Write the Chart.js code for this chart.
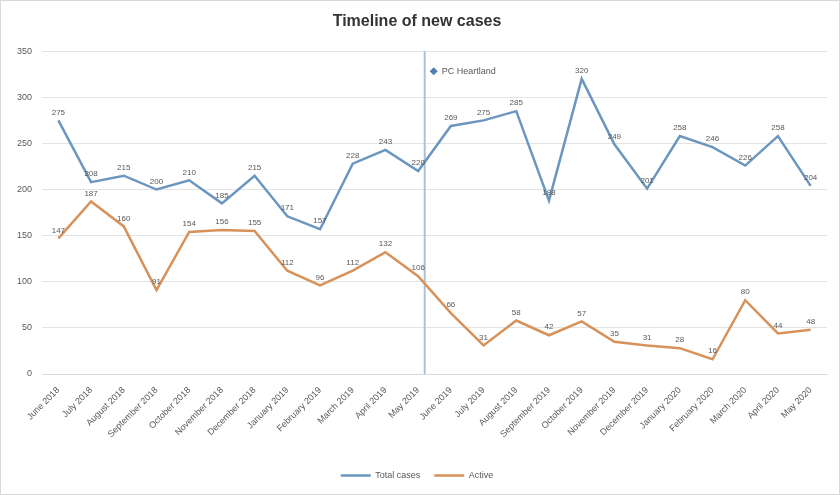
<!DOCTYPE html>
<html>
<head>
<meta charset="utf-8">
<script src="https://cdn.jsdelivr.net/npm/chart.js@4/dist/chart.umd.min.js"></script>
<style>
    html, body { margin: 0; padding: 0; background: #fff; }
    .wrap { position: relative; width: 840px; height: 495px; box-sizing: border-box; border: 1px solid #d9d9d9; }
</style>
</head>
<body>
<div class="wrap"><canvas id="casesChart"></canvas></div>
<script>
// Chart data
const months = [
    'June 2018', 'July 2018', 'August 2018', 'September 2018', 'October 2018', 'November 2018',
    'December 2018', 'January 2019', 'February 2019', 'March 2019', 'April 2019', 'May 2019',
    'June 2019', 'July 2019', 'August 2019', 'September 2019', 'October 2019', 'November 2019',
    'December 2019', 'January 2020', 'February 2020', 'March 2020', 'April 2020', 'May 2020'
];
const totalCases = [275, 208, 215, 200, 210, 185, 215, 171, 157, 228, 243, 220,
                    269, 275, 285, 188, 320, 249, 201, 258, 246, 226, 258, 204];
const activeCases = [147, 187, 160, 91, 154, 156, 155, 112, 96, 112, 132, 106,
                     66, 31, 58, 42, 57, 35, 31, 28, 16, 80, 44, 48];
const yTicks = [0, 50, 100, 150, 200, 250, 300, 350];
const markerIndex = 11.2;
const markerLabel = 'PC Heartland';

document.addEventListener('DOMContentLoaded', function() {
    const ctx = document.getElementById('casesChart');
    const font = '"Liberation Sans", Arial, sans-serif';

    // value labels above each point
    const pointLabels = {
        id: 'pointLabels',
        afterDatasetsDraw(chart) {
            const c = chart.ctx;
            c.save();
            c.font = '8px ' + font;
            c.fillStyle = '#595959';
            c.textAlign = 'center';
            c.textBaseline = 'bottom';
            chart.data.datasets.forEach((ds, i) => {
                chart.getDatasetMeta(i).data.forEach((pt, j) => {
                    c.fillText(ds.data[j], pt.x, pt.y - 4);
                });
            });
            c.restore();
        }
    };

    // vertical marker line with its label
    const markerLine = {
        id: 'markerLine',
        beforeDatasetsDraw(chart) {
            const x = chart.scales.x.getPixelForValue(markerIndex);
            const area = chart.chartArea;
            const c = chart.ctx;
            c.save();
            c.strokeStyle = '#a9c1d6';
            c.lineWidth = 2;
            c.beginPath();
            c.moveTo(x, area.top);
            c.lineTo(x, area.bottom);
            c.stroke();

            const y = area.top + 20;
            c.fillStyle = '#4f7fb0';
            c.beginPath();
            c.moveTo(x + 9, y - 4);
            c.lineTo(x + 13, y);
            c.lineTo(x + 9, y + 4);
            c.lineTo(x + 5, y);
            c.closePath();
            c.fill();
            c.font = '9px ' + font;
            c.fillStyle = '#595959';
            c.textBaseline = 'middle';
            c.fillText(markerLabel, x + 17, y);
            c.restore();
        }
    };

    new Chart(ctx, {
        type: 'line',
        data: {
            labels: months,
            datasets: [{
                label: 'Total cases',
                data: totalCases,
                borderColor: '#6b96bf',
                backgroundColor: '#6b96bf',
                borderWidth: 2.5,
                pointRadius: 0,
                tension: 0
            }, {
                label: 'Active',
                data: activeCases,
                borderColor: '#d6925a',
                backgroundColor: '#d6925a',
                borderWidth: 2.5,
                pointRadius: 0,
                tension: 0
            }]
        },
        options: {
            responsive: true,
            maintainAspectRatio: false,
            animation: false,
            layout: {
                padding: { left: 6, right: 12, top: 2, bottom: 4 }
            },
            plugins: {
                title: {
                    display: true,
                    text: 'Timeline of new cases',
                    color: '#333',
                    font: { size: 16, weight: 'bold', family: font },
                    padding: { top: 9, bottom: 20 }
                },
                legend: {
                    position: 'bottom',
                    labels: {
                        usePointStyle: true,
                        pointStyle: 'line',
                        pointStyleWidth: 30,
                        color: '#595959',
                        font: { size: 9, family: font },
                        padding: 14
                    }
                },
                tooltip: { enabled: false }
            },
            scales: {
                x: {
                    offset: true,
                    grid: { display: false },
                    border: { color: '#d9d9d9' },
                    afterFit: function(axis) {
                        axis.height = 83;
                    },
                    ticks: {
                        autoSkip: false,
                        minRotation: 45,
                        maxRotation: 45,
                        color: '#595959',
                        font: { size: 9, family: font }
                    }
                },
                y: {
                    min: yTicks[0],
                    max: yTicks[yTicks.length - 1],
                    grid: { color: '#e3e3e3', drawTicks: false },
                    border: { display: false },
                    afterBuildTicks: function(axis) {
                        axis.ticks = yTicks.map(v => ({ value: v }));
                    },
                    ticks: {
                        padding: 10,
                        color: '#595959',
                        font: { size: 9, family: font }
                    }
                }
            }
        },
        plugins: [markerLine, pointLabels]
    });
});
</script>
</body>
</html>
